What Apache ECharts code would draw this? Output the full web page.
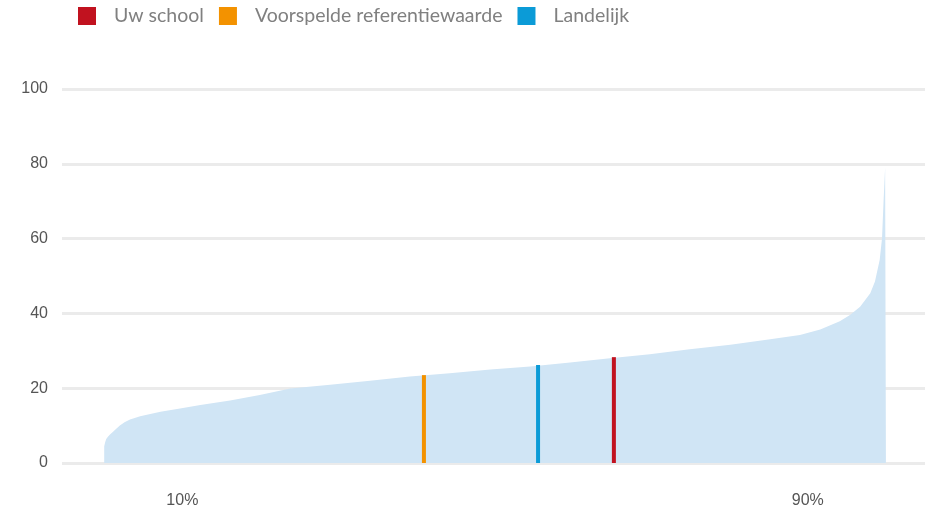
<!DOCTYPE html>
<html>
<head>
<meta charset="utf-8">
<script src="https://cdn.jsdelivr.net/npm/echarts@6/dist/echarts.min.js"></script>
<style>
  html, body { margin: 0; padding: 0; background: #fff; }
  #chart { width: 930px; height: 511px; }
</style>
</head>
<body>
<div id="chart"></div>
<script>
// verdeling van alle scholen, gesorteerd (percentiel -> score)
const percentiles = [0, 0.13, 0.26, 0.5, 0.77, 1.1, 1.4, 2.0, 2.6, 3.3, 4.6, 5.9, 7.2, 9.7, 12.3, 16.1, 19.9, 23.8, 28.9, 34.0, 39.1, 44.2, 49.4, 54.5, 59.6, 64.7, 69.8, 74.9, 80.1, 85.2, 89.0, 91.6, 94.1, 95.4, 96.7, 98.0, 98.6, 99.2, 99.5, 99.7, 99.9, 100]
const scores = [4.5, 5.6, 6.4, 7.1, 7.7, 8.3, 8.9, 10.0, 10.9, 11.6, 12.5, 13.1, 13.7, 14.6, 15.5, 16.7, 18.2, 19.9, 20.9, 22.0, 23.1, 24.0, 25.0, 25.8, 26.9, 28.0, 29.1, 30.4, 31.6, 33.1, 34.2, 35.7, 37.9, 39.6, 41.8, 45.4, 48.5, 54.3, 60, 70, 79, 79]

const markerNames = ['Uw school', 'Voorspelde referentiewaarde', 'Landelijk']
const markerPos = [65.2, 40.9, 55.5]
const markerValues = [28.3, 23.5, 26.2]
const markerColors = ['#c1121f', '#f39200', '#0b9bd7']

const xTickLabels = [10, 90]
const yTicks = { min: 0, max: 100, interval: 20 }

const chart = echarts.init(document.getElementById('chart'), null, { renderer: 'canvas' })

const curve = percentiles.map((p, i) => [p, scores[i]])

const markerSeries = markerNames.map((name, i) => ({
  name: name,
  type: 'bar',
  barWidth: 4,
  barGap: '-100%',
  itemStyle: { color: markerColors[i] },
  z: 5,
  data: [[markerPos[i], markerValues[i]]]
}))

chart.setOption({
  animation: false,
  legend: {
    left: 78,
    top: 6,
    padding: 0,
    itemWidth: 18,
    itemHeight: 18,
    itemGap: 15,
    icon: 'rect',
    data: markerNames,
    textStyle: {
      fontFamily: 'Lato',
      fontSize: 19.5,
      color: '#808080',
      padding: [0, 0, 0, 13]
    }
  },
  grid: {
    top: 89,
    left: 62,
    right: 5,
    bottom: 48
  },
  xAxis: {
    type: 'value',
    min: -5.4,
    max: 105,
    axisLine: { show: false },
    axisTick: { show: false },
    splitLine: { show: false },
    axisLabel: {
      customValues: xTickLabels,
      formatter: v => v + '%',
      margin: 30,
      fontFamily: 'Liberation Sans',
      fontSize: 16,
      color: '#555'
    }
  },
  yAxis: {
    type: 'value',
    min: yTicks.min,
    max: yTicks.max,
    interval: yTicks.interval,
    axisLine: { show: false },
    axisTick: { show: false },
    axisLabel: {
      margin: 14,
      fontFamily: 'Liberation Sans',
      fontSize: 16,
      color: '#555'
    },
    splitLine: {
      lineStyle: { color: '#ebebeb', width: 3 }
    }
  },
  series: [
    {
      name: 'verdeling',
      type: 'line',
      symbol: 'none',
      lineStyle: { width: 0, color: '#d0e5f5' },
      areaStyle: { color: '#d0e5f5', opacity: 1 },
      z: 2,
      data: curve
    },
    ...markerSeries
  ]
})
</script>
</body>
</html>
